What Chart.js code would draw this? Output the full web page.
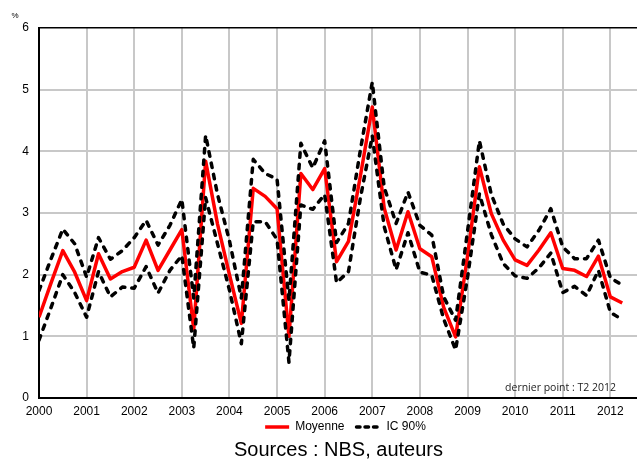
<!DOCTYPE html>
<html>
<head>
<meta charset="utf-8">
<script src="https://cdn.jsdelivr.net/npm/chart.js@4.4.1/dist/chart.umd.min.js"></script>
<style>
  html, body { margin: 0; padding: 0; background: #fff; }
  #wrap { width: 637px; height: 461px; position: relative; }
</style>
</head>
<body>
<div id="wrap"><canvas id="c"></canvas></div>
<script>
// Quarter categories: T1 2000 ... T2 2012
const firstYear = 2000;
const lastYear = 2012;
const lastQuarter = 2;
const quarters = [];
for (let y = firstYear; y <= lastYear; y++) {
  for (let q = 1; q <= 4; q++) {
    if (y === lastYear && q > lastQuarter) break;
    quarters.push('T' + q + ' ' + y);
  }
}
// Year ticks on the horizontal axis
const yearTicks = [2000, 2001, 2002, 2003, 2004, 2005, 2006, 2007, 2008, 2009, 2010, 2011, 2012];
const yTicks = [0, 1, 2, 3, 4, 5, 6];

// Series (%, quarterly)
const moyenne = [1.31,1.86,2.39,2.04,1.58,2.34,1.93,2.05,2.12,2.56,2.07,2.40,2.73,1.12,3.84,2.82,2.00,1.21,3.40,3.27,3.07,1.00,3.64,3.38,3.72,2.21,2.54,3.60,4.72,3.08,2.40,3.02,2.42,2.29,1.47,0.99,2.30,3.75,2.99,2.56,2.24,2.15,2.40,2.68,2.10,2.07,1.97,2.30,1.64,1.54];
const icHaut  = [1.74,2.25,2.74,2.50,1.96,2.60,2.25,2.39,2.60,2.88,2.48,2.80,3.22,1.62,4.26,3.30,2.55,1.62,3.87,3.64,3.55,1.58,4.13,3.73,4.17,2.52,2.83,4.02,5.12,3.42,2.83,3.34,2.80,2.64,1.64,1.26,2.70,4.17,3.30,2.82,2.58,2.45,2.72,3.07,2.45,2.26,2.26,2.56,1.95,1.83];
const icBas   = [0.94,1.46,2.00,1.71,1.31,2.05,1.64,1.80,1.78,2.13,1.70,2.07,2.31,0.81,3.25,2.50,1.75,0.88,2.86,2.86,2.57,0.58,3.13,3.06,3.30,1.87,2.05,3.24,4.25,2.78,2.08,2.68,2.04,1.99,1.28,0.78,1.95,3.31,2.65,2.18,1.98,1.94,2.11,2.35,1.71,1.81,1.66,2.07,1.39,1.27];

// numeric position of each quarter (year + fraction)
const xPos = quarters.map(s => {
  const parts = s.split(' ');
  return parseInt(parts[1], 10) + (parseInt(parts[0].slice(1), 10) - 1) / 4;
});

const FONT = "'Liberation Sans', Arial, sans-serif";

const textPlugin = {
  id: 'texts',
  afterLayout(chart) {
    const lg = chart.legend;
    if (lg) { lg.left += 27; lg.right += 27; lg.top -= 13; lg.bottom -= 13; }
  },
  afterDraw(chart) {
    const ctx = chart.ctx;
    ctx.save();
    ctx.fillStyle = '#000';
    ctx.textBaseline = 'middle';
    ctx.textAlign = 'center';
    ctx.font = '8px ' + FONT;
    ctx.fillText('%', 15, 16);
    ctx.font = '20px ' + FONT;
    ctx.fillText('Sources : NBS, auteurs', 338.5, 450);
    ctx.fillStyle = '#222';
    ctx.textAlign = 'right';
    ctx.font = "10.5px 'Open Sans', sans-serif";
    ctx.fillText('dernier point : T2 2012', 616, 388);
    ctx.restore();
  }
};

const dashStyle = { borderColor: '#000000', backgroundColor: '#000000', borderWidth: 3.5,
  borderDash: [4.5, 7], borderCapStyle: 'round', borderJoinStyle: 'round',
  pointRadius: 0, tension: 0, order: 1 };

new Chart(document.getElementById('c'), {
  type: 'line',
  data: {
    labels: xPos,
    datasets: [
      { label: 'Moyenne', data: moyenne, borderColor: '#ff0000', backgroundColor: '#ff0000',
        borderWidth: 3.5, borderJoinStyle: 'round', pointRadius: 0, tension: 0, order: 2 },
      Object.assign({ label: 'IC 90%', data: icHaut }, dashStyle),
      Object.assign({ label: 'IC 90% bas', data: icBas }, dashStyle)
    ]
  },
  options: {
    responsive: true,
    maintainAspectRatio: false,
    animation: false,
    devicePixelRatio: 1,
    layout: { padding: { top: 28, left: 0, right: 0, bottom: 5 } },
    plugins: {
      tooltip: { enabled: false },
      legend: {
        position: 'bottom',
        labels: {
          usePointStyle: true,
          pointStyle: 'line',
          pointStyleWidth: 24,
          padding: 12,
          color: '#000',
          font: { family: FONT, size: 12 },
          generateLabels: chart => {
            const items = Chart.defaults.plugins.legend.labels.generateLabels(chart);
            return items
              .filter(it => it.datasetIndex !== 2)
              .sort((a, b) => a.datasetIndex - b.datasetIndex)
              .map(it => {
                const ds = chart.data.datasets[it.datasetIndex];
                it.lineDash = ds.borderDash ? [3.5, 5] : [];
                it.lineCap = ds.borderDash ? 'round' : 'butt';
                it.lineWidth = 3.5;
                it.strokeStyle = ds.borderColor;
                it.pointStyle = 'line';
                return it;
              });
          }
        }
      }
    },
    scales: {
      x: {
        type: 'linear',
        min: yearTicks[0],
        max: 2012.56,
        afterBuildTicks: s => { s.ticks = yearTicks.map(v => ({ value: v })); },
        afterFit: s => { s.height = 24; },
        ticks: { stepSize: 1, maxRotation: 0, autoSkip: false, padding: 6, color: '#000',
                 font: { family: FONT, size: 12 }, callback: v => String(v) },
        grid: { color: '#c8c8c8', lineWidth: 2, drawTicks: false },
        border: { color: '#000', width: 2 }
      },
      y: {
        min: yTicks[0],
        max: yTicks[yTicks.length - 1],
        afterBuildTicks: s => { s.ticks = yTicks.map(v => ({ value: v })); },
        afterFit: s => { s.width = 39; },
        ticks: { stepSize: 1, padding: 10, color: '#000', font: { family: FONT, size: 12 } },
        grid: {
          color: c => (c.tick && c.tick.value === 6) ? '#000' : '#c8c8c8',
          lineWidth: c => (c.tick && c.tick.value === 6) ? 1.5 : 2,
          drawTicks: false
        },
        border: { color: '#000', width: 2 }
      }
    }
  },
  plugins: [textPlugin]
});
</script>
</body>
</html>
